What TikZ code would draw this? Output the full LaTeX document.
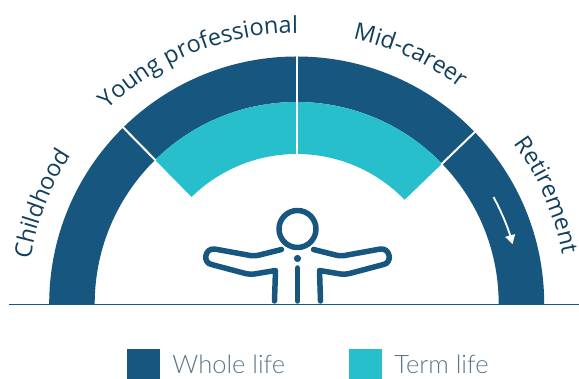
\documentclass[tikz,border=0pt]{standalone}
\usepackage{fontspec}
\setmainfont{Open Sans}
\newfontfamily\legendfont{Lato Light}
\usetikzlibrary{arrows.meta,positioning,decorations.text}
\definecolor{wholeblue}{HTML}{17577F}
\definecolor{termteal}{HTML}{27BFCB}
\definecolor{stagetext}{HTML}{123F5E}
\definecolor{legendtext}{HTML}{5C768B}
\tikzset{
    stage/.style={decorate,decoration={text along path,text align=center,
        text={|\fontsize{23.5}{24}\selectfont\color{stagetext}|#1}}},
    person/.style={draw=wholeblue,line width=5.5pt,line cap=round,line join=round},
    legendbox/.style={minimum width=33pt,minimum height=30pt,inner sep=0pt},
    legendlabel/.style={text=legendtext,font=\legendfont\fontsize{25.5}{26}\selectfont,inner sep=0pt}
}

\begin{document}
\begin{tikzpicture}[x=1pt,y=1pt]
    \useasboundingbox (0,0) rectangle (579,379);
    \begin{scope}[shift={(296.7,75)}]
        % bands
        \fill[wholeblue] (180:247.5pt) arc (180:0:247.5pt) -- (0:202pt) arc (0:180:202pt) -- cycle;
        \fill[termteal] (134.5:202pt) arc (134.5:44:202pt) -- (44:150pt) arc (44:134.5:150pt) -- cycle;
        \draw[white,line width=2pt] (90:150) -- (90:249);
        \draw[white,line width=2pt] (134.5:201) -- (134.5:249);
        \draw[white,line width=2pt] (44:201) -- (44:249);
        % ground
        \draw[wholeblue,line width=1.5pt] (-288,-0.5) -- (283,-0.5);
        % arrow in the last band
        \draw[white,line width=1.8pt,-{Triangle[width=10pt,length=9pt]}] (28.5:224pt) arc (28.5:15.5:224pt);
        % stages
        \path[stage={Childhood}] (172:270pt) arc (172:145:270pt);
        \path[stage={Young professional}] (136:271pt) arc (136:88:271pt);
        \path[stage={Mid-career}] (81.5:271pt) arc (81.5:49.5:271pt);
        \path[stage={Retirement}] (37:270pt) arc (37:10:270pt);
        % person
        \draw[person] (0.8,75) circle (18.5pt);
        \fill[wholeblue] (0.8,45.5) circle (3.6pt);
        \draw[person] (0.8,36) -- (0.8,3);
        \foreach \s in {1,-1} {
            \draw[person,xscale=\s,xshift=\s*0.8pt] (-16,54.5) -- (-38,49)
                .. controls (-42,48) and (-46,48) .. (-50,49) -- (-83,55)
                .. controls (-93,56) and (-95,41) .. (-86,39.5) -- (-54,31)
                .. controls (-49,29.5) and (-45,29.5) .. (-40,30.5) -- (-22,33.5) -- (-23,3);
        }
    \end{scope}
    % legend
    \node[legendbox,fill=wholeblue] (wholebox) at (143.5,15) {};
    \node[legendlabel,right=12pt of wholebox,anchor=west] (wholelabel) {Whole life};
    \node[legendbox,fill=termteal] (termbox) at (365.5,15) {};
    \node[legendlabel,right=12pt of termbox,anchor=west] (termlabel) {Term life};
\end{tikzpicture}
\end{document}
